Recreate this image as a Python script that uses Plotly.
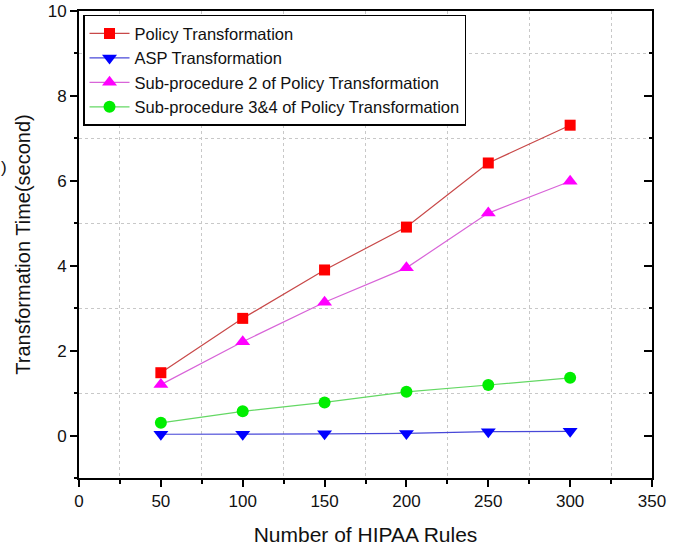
import plotly.graph_objects as go

rules = [50, 100, 150, 200, 250, 300]
policy = [1.48, 2.76, 3.90, 4.91, 6.42, 7.31]
asp = [0.03, 0.03, 0.04, 0.05, 0.09, 0.10]
sub2 = [1.20, 2.21, 3.14, 3.95, 5.24, 5.99]
sub34 = [0.30, 0.57, 0.78, 1.03, 1.19, 1.36]

names = ["Policy Transformation", "ASP Transformation",
         "Sub-procedure 2 of Policy Transformation",
         "Sub-procedure 3&4 of Policy Transformation"]
series = [policy, asp, sub2, sub34]
line_colors = ["#C84848", "#4848D8", "#D864D8", "#64D864"]
marker_colors = ["#FF0000", "#0000FF", "#FF00FF", "#00EE00"]
symbols = ["square", "triangle-down", "triangle-up", "circle"]
sizes = [11, 13, 13, 12]

FONT = "Liberation Sans, Arial, sans-serif"

fig = go.Figure()
for n, s, lc, mc, sym, sz in zip(names, series, line_colors, marker_colors, symbols, sizes):
    fig.add_trace(go.Scatter(
        x=rules, y=s, name=n, mode="lines+markers",
        line=dict(color=lc, width=1.2),
        marker=dict(color=mc, symbol=sym, size=sz, line=dict(width=0)),
    ))

# invisible trace for mirrored axes (top line, right inward ticks)
fig.add_trace(go.Scatter(x=[], y=[], xaxis="x2", yaxis="y2", showlegend=False,
                         hoverinfo="skip"))

fig.update_layout(
    width=687, height=548,
    margin=dict(l=79, r=35, t=11, b=70),
    paper_bgcolor="white", plot_bgcolor="white",
    font=dict(family=FONT, color="#111111"),
    xaxis=dict(
        range=[0, 350], dtick=50, tick0=0, automargin=False,
        showgrid=False, zeroline=False,
        showline=True, linecolor="black", linewidth=2,
        ticks="outside", ticklen=7, tickwidth=1.5, tickcolor="black",
        tickfont=dict(size=17, family=FONT),
        title=dict(text="Number of HIPAA Rules", font=dict(size=21, family=FONT), standoff=17),
        minor=dict(dtick=50, tick0=25, ticks="outside", ticklen=4, tickwidth=1.5,
                   tickcolor="black", showgrid=True, gridcolor="#C8C8C8",
                   griddash="dot", gridwidth=1),
    ),
    yaxis=dict(
        range=[-1, 10], dtick=2, tick0=0, automargin=False,
        showgrid=False, zeroline=False,
        showline=True, linecolor="black", linewidth=2,
        ticks="outside", ticklen=7, tickwidth=1.5, tickcolor="black",
        tickfont=dict(size=17, family=FONT),
        title=dict(text="Transformation Time(second)", font=dict(size=20, family=FONT), standoff=12),
        minor=dict(dtick=2, tick0=1, ticks="outside", ticklen=3, tickwidth=1.5,
                   tickcolor="black", showgrid=True, gridcolor="#C8C8C8",
                   griddash="dot", gridwidth=1),
    ),
    xaxis2=dict(
        range=[0, 350], overlaying="x", side="top", anchor="y", automargin=False,
        showgrid=False, zeroline=False, showticklabels=False,
        showline=True, linecolor="black", linewidth=1.5, ticks="",
    ),
    yaxis2=dict(
        range=[-1, 10], overlaying="y", side="right", anchor="x", automargin=False,
        showgrid=False, zeroline=False, showticklabels=False,
        showline=True, linecolor="black", linewidth=2,
        ticks="inside", dtick=2, tick0=0, ticklen=8, tickwidth=1.5, tickcolor="black",
        minor=dict(dtick=2, tick0=1, ticks="inside", ticklen=3, tickwidth=1.5, tickcolor="black"),
    ),
    legend=dict(
        x=0.007, y=0.992, xanchor="left", yanchor="top",
        bgcolor="white", bordercolor="black", borderwidth=1.5,
        font=dict(size=16.5, family=FONT, color="#111111"),
        tracegroupgap=0, itemwidth=40,
    ),
    annotations=[dict(text=")", x=0, y=0.69, xref="paper", yref="paper",
                      xanchor="left", showarrow=False, xshift=-80,
                      font=dict(size=17, family=FONT))],
)

fig.write_html("out.html", config={"displayModeBar": False},
               post_script="document.body.style.margin='0';document.body.style.padding='0';")
